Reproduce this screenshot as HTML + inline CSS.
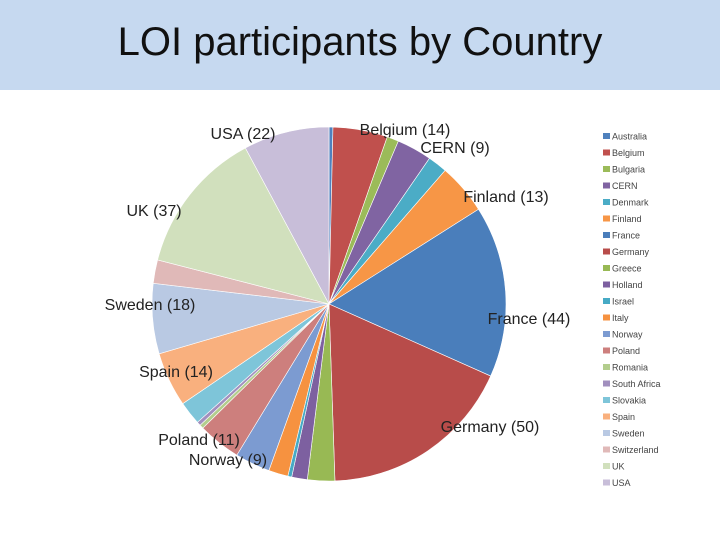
<!DOCTYPE html>
<html><head><meta charset="utf-8"><style>
body{margin:0;width:720px;height:540px;background:#fff;overflow:hidden;font-family:"Liberation Sans",sans-serif}
#hdr{position:absolute;left:0;top:0;width:720px;height:90px;background:#c6d9f0}
#title{position:absolute;left:0;top:20px;width:720px;text-align:center;font-size:40px;color:#111}
svg{position:absolute;left:0;top:0}
</style></head><body>
<div id="hdr"></div>
<div id="title">LOI participants by Country</div>
<svg id="chart" width="720" height="540"></svg>
<script>
const categories=["Australia","Belgium","Bulgaria","CERN","Denmark","Finland","France","Germany","Greece","Holland","Israel","Italy","Norway","Poland","Romania","South Africa","Slovakia","Spain","Sweden","Switzerland","UK","USA"];
const values=[1,14,3,9,5,13,44,50,7,4,1,5,9,11,1,1,6,14,18,6,37,22];
const labelled=["Belgium","CERN","Finland","France","Germany","Norway","Poland","Spain","Sweden","UK","USA"];
const colors=["#4f81bd","#c0504d","#9bbb59","#8064a2","#4bacc6","#f79646","#4a7ebb","#b84c4a","#98b954","#7d60a0","#46aac5","#f69240","#7c9bd1","#cd7f7d","#b3cd8d","#a18fbe","#7ec5d9","#f9b07e","#b9c9e3","#e0b9b8","#d1e0bd","#c8bed9"];
const labelPos={"Belgium":[405,129],"CERN":[455,147],"Finland":[506,196],"France":[529,318],"Germany":[490,426],"Norway":[228,459],"Poland":[199,439],"Spain":[176,371],"Sweden":[150,304],"UK":[154,210],"USA":[243,133]};
const NS="http://www.w3.org/2000/svg",svg=document.getElementById('chart');
const cx=329,cy=304,r=177;
const total=values.reduce((a,b)=>a+b,0);
function pt(a){return [cx+r*Math.sin(a),cy-r*Math.cos(a)];}
let acc=0;
values.forEach((v,i)=>{
  const a0=acc/total*2*Math.PI;acc+=v;const a1=acc/total*2*Math.PI;
  const p0=pt(a0),p1=pt(a1);
  const p=document.createElementNS(NS,'path');
  p.setAttribute('d',`M${cx},${cy}L${p0[0]},${p0[1]}A${r},${r} 0 ${a1-a0>Math.PI?1:0} 1 ${p1[0]},${p1[1]}Z`);
  p.setAttribute('fill',colors[i]);p.setAttribute('stroke','#fff');p.setAttribute('stroke-width','0.6');
  
  
  svg.appendChild(p);
  if(labelled.includes(categories[i])){
    const t=document.createElementNS(NS,'text');
    const lp=labelPos[categories[i]];
    t.setAttribute('x',lp[0]);t.setAttribute('y',lp[1]+6);t.setAttribute('text-anchor','middle');
    t.setAttribute('font-size','16');t.setAttribute('fill','#222');t.setAttribute('font-family','Liberation Sans, sans-serif');
    t.textContent=categories[i]+' ('+v+')';
    
    
    svg.appendChild(t);
  }
  const ly=136+i*16.5;
  const s=document.createElementNS(NS,'rect');
  s.setAttribute('x',603);s.setAttribute('y',ly-3);s.setAttribute('width',7);s.setAttribute('height',6);s.setAttribute('fill',colors[i]);
  
  
  svg.appendChild(s);
  const lt=document.createElementNS(NS,'text');
  lt.setAttribute('x',612);lt.setAttribute('y',ly+3.5);lt.setAttribute('font-size','9');lt.setAttribute('fill','#444');lt.setAttribute('font-family','Liberation Sans, sans-serif');
  lt.textContent=categories[i];
  
  
  svg.appendChild(lt);
});
</script>
</body></html>
